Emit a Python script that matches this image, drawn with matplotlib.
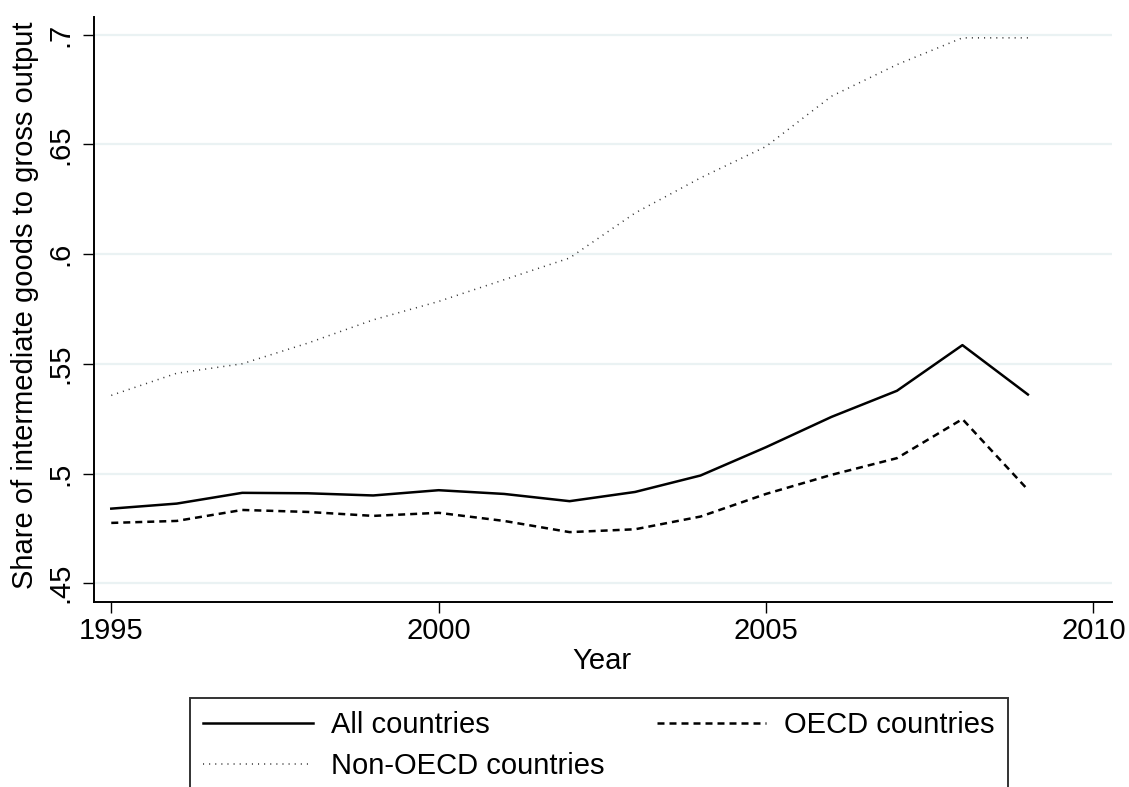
import matplotlib
matplotlib.use("Agg")
import matplotlib.pyplot as plt

plt.rcParams['font.family'] = ['Liberation Sans', 'DejaVu Sans']

years = list(range(1995, 2010))
all_countries = [0.4840, 0.4863, 0.4912, 0.4910, 0.4900, 0.4924, 0.4907, 0.4874,
                 0.4916, 0.4991, 0.5120, 0.5258, 0.5377, 0.5585, 0.5360]
oecd = [0.4775, 0.4784, 0.4834, 0.4825, 0.4807, 0.4821, 0.4784, 0.4733,
        0.4746, 0.4804, 0.4907, 0.4994, 0.5070, 0.5248, 0.4926]
non_oecd = [0.5356, 0.5457, 0.5500, 0.5594, 0.5700, 0.5784, 0.5883, 0.5982,
            0.6187, 0.6347, 0.6490, 0.6719, 0.6863, 0.6985, 0.6985]

xticks = [1995, 2000, 2005, 2010]
yticks = [0.45, 0.5, 0.55, 0.6, 0.65, 0.7]
ytick_labels = ['.45', '.5', '.55', '.6', '.65', '.7']

W, H = 1129, 787
FS = 21
fig = plt.figure(figsize=(W / 100, H / 100), dpi=100)
ax = fig.add_axes([94 / W, 1 - 601.7 / H, (1111.7 - 94) / W, (601.7 - 17) / H])

for y in yticks:
    ax.axhline(y, color='#eaf2f3', lw=1.6, zorder=0)

l1, = ax.plot(years, all_countries, color='black', lw=1.8,
              label='All countries')
l2, = ax.plot(years, oecd, color='black', lw=1.8, dashes=(2.8, 2.0),
              label='OECD countries')
l3, = ax.plot(years, non_oecd, color='#333333', lw=1.1, dashes=(0.7, 3.3),
              label='Non-OECD countries')

ax.set_xlim(1994.736, 2010.28)
ax.set_ylim(0.4416, 0.708)
ax.set_xticks(xticks)
ax.set_yticks(yticks)
ax.set_yticklabels(ytick_labels)

for s in ['top', 'right']:
    ax.spines[s].set_visible(False)
for s in ['left', 'bottom']:
    ax.spines[s].set_linewidth(1.4)

ax.tick_params(axis='both', labelsize=FS, length=8, width=1.0, color='black')
ax.tick_params(axis='x', pad=3)
ax.tick_params(axis='y', pad=6)
for lab in ax.get_yticklabels():
    lab.set_rotation(90)
    lab.set_va('center')
    lab.set_ha('right')

ax.set_xlabel('Year', fontsize=FS)
ax.xaxis.set_label_coords((601.7 - 94) / (1111.7 - 94), (601.7 - 661) / (601.7 - 17))
ax.xaxis.label.set_va('center')
ax.set_ylabel('Share of intermediate goods to gross output', fontsize=FS)
ax.yaxis.set_label_coords((25 - 94) / (1111.7 - 94), (601.7 - 305) / (601.7 - 17))
ax.yaxis.label.set_va('center')

leg = fig.legend(handles=[l1, l3, l2], ncol=2, loc='upper left',
                 bbox_to_anchor=(190 / W, 1 - 698 / H), fontsize=FS,
                 handlelength=3.75, handletextpad=0.62, columnspacing=1.8,
                 borderpad=0.45, labelspacing=0.45, borderaxespad=0,
                 fancybox=False, frameon=True, edgecolor='black')
leg.get_frame().set_linewidth(1.4)

fig.savefig('out.png', dpi=100)
